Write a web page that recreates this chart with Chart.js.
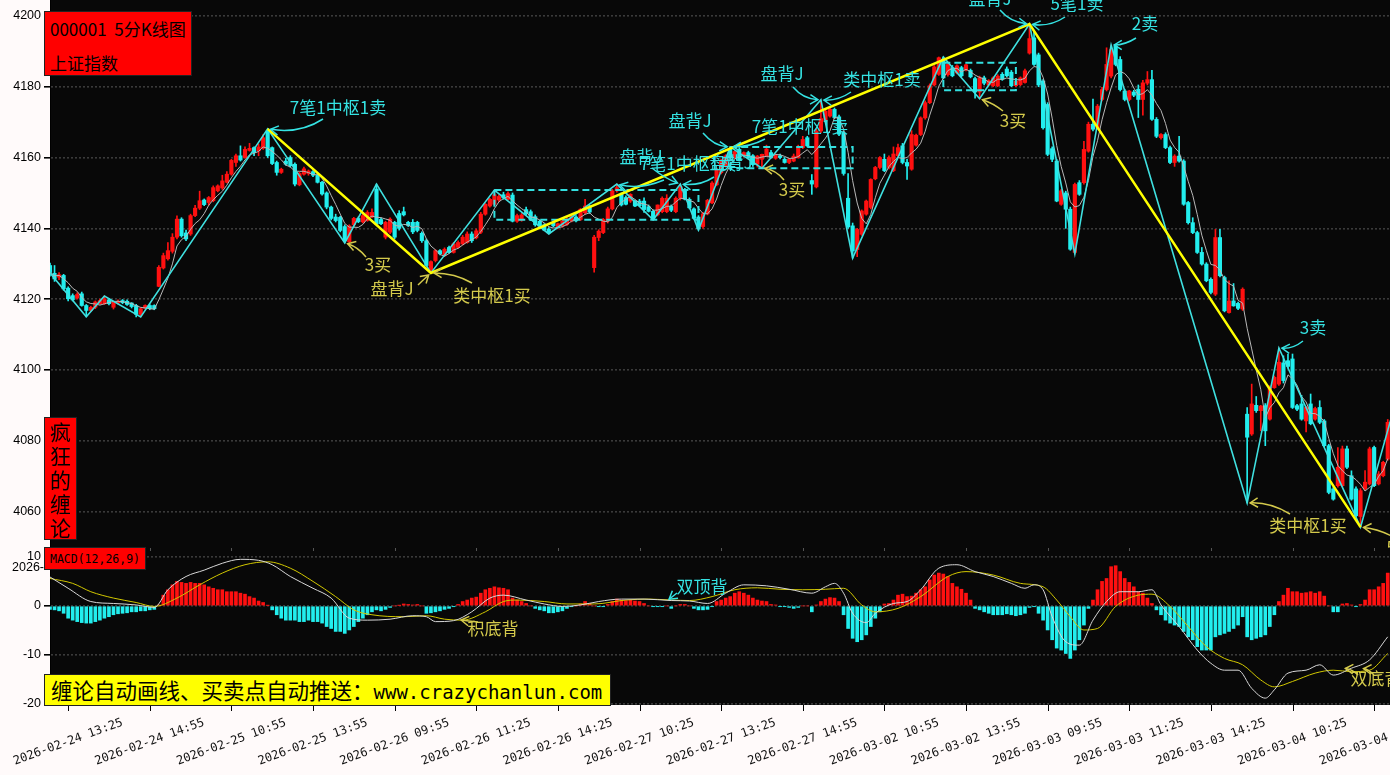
<!DOCTYPE html>
<html>
<head>
<meta charset="utf-8">
<script src="https://cdn.jsdelivr.net/npm/chart.js@4.4.1/dist/chart.umd.min.js"></script>
<style>
  html, body { margin: 0; padding: 0; }
  body { width: 1390px; height: 775px; overflow: hidden; position: relative; background: #fffafa; }
  #bg { position: absolute; left: 50px; top: 0; width: 1340px; height: 705px; background: #080808; }
  canvas { position: absolute; left: 0; }
  #main { top: 0; }
  #macd { top: 551px; }
  .tag { position: absolute; background: #ff0000; border: 1px solid #222; color: #000; font-family: "Noto Sans CJK SC", sans-serif; }
  #title { left: 44px; top: 11px; width: 146px; height: 63px; font-size: 17px; }
  #title div { position: absolute; left: 5px; white-space: pre; }
  #vert { left: 44px; top: 417px; width: 33px; height: 123px; font-size: 21px; line-height: 24px; text-align: center; padding-top: 1px; box-sizing: border-box; }
  #macdTag { left: 44px; top: 547px; width: 102px; height: 23px; font-family: "DejaVu Sans Mono", monospace; font-size: 11.5px; line-height: 23px; padding-left: 5px; box-sizing: border-box; }
  #ad { position: absolute; left: 44px; top: 674px; width: 567px; height: 32px; background: #ffff00; border: 1px solid #222; box-sizing: border-box; color: #000; line-height: 30px; padding-left: 6px; white-space: nowrap; }
  #ad .cn { font-family: "Noto Sans CJK SC", sans-serif; font-size: 21.5px; }
  #ad .en { font-family: "DejaVu Sans Mono", monospace; font-size: 19px; }
</style>
</head>
<body>
<div id="bg"></div>
<canvas id="main" width="1390" height="551"></canvas>
<canvas id="macd" width="1390" height="224"></canvas>
<div class="tag" id="title"><div style="top:4px">000001  5分K线图</div><div style="top:38px">上证指数</div></div>
<div class="tag" id="vert">疯<br>狂<br>的<br>缠<br>论</div>
<div class="tag" id="macdTag">MACD(12,26,9)</div>
<div id="ad"><span class="cn">缠论自动画线、买卖点自动推送：</span><span class="en">www.crazychanlun.com</span></div>
<script>
'use strict';

// 5分钟K线, 第0根 = 2026-02-24 13:05
const opens = [
  4129.5,4127.3,4126.2,4126.7,4123.1,4121,4120.3,4121.5,4118.2,4116.8,
  4117.7,4118.7,4118.7,4119.8,4117.7,4118.9,4119.6,4119.4,4118.9,4118.2,
  4115.7,4117.4,4118.2,4118.2,4123.6,4128.8,4131.4,4133.5,4137.5,4142.6,
  4138.7,4138.4,4143.6,4145.7,4148,4147.3,4147.8,4150.6,4151.4,4153,
  4155.3,4158.6,4160.5,4160,4162,4162.8,4161.9,4162.6,4167.5,4162.8,
  4158.6,4155.8,4159,4160,4158.1,4152.3,4155.3,4155.5,4156,4155,
  4153,4150,4146,4143.2,4143.1,4140.5,4136.2,4141,4142.8,4141.8,
  4142.2,4143.2,4151.1,4142.5,4137.5,4138.9,4141.7,4144.2,4144.7,4141.7,
  4141.7,4141.7,4138.6,4136.5,4127.9,4130.9,4133.7,4132.3,4134.6,4133.2,
  4134.6,4135.6,4136,4138.4,4137.3,4138.9,4144,4146.3,4146.8,4148,
  4149.5,4148.2,4149.4,4142,4142.3,4145.3,4144.7,4143.3,4142,4141,
  4139.8,4141.6,4140.2,4140.7,4141.1,4142.1,4143.2,4142.5,4144.4,4146,
  4128.9,4137.4,4138.8,4142,4145.5,4150.6,4149.6,4148.7,4147.7,4147.7,
  4147.7,4147.7,4146.1,4144.8,4143.8,4144.7,4144.7,4146.2,4144.7,4148.5,
  4150.8,4148.2,4145.5,4143.2,4140.5,4144.1,4147.2,4152.3,4155.7,4157.6,
  4162.6,4160,4162.3,4160.5,4161.4,4160.5,4158.1,4159.5,4160.5,4161.4,
  4159.8,4160.5,4159.5,4158.6,4159,4160,4162.8,4165.6,4153.5,4151.7,
  4167.5,4170.3,4171.7,4173.6,4171.5,4167,4148.5,4140.7,4134,4138.3,
  4144,4145.9,4154,4157.2,4159.5,4157.2,4156.3,4160.5,4163.3,4158.6,
  4156.7,4163.5,4166.5,4171.2,4175.5,4180.5,4183.5,4187.7,4183.4,4185.4,
  4183.9,4185.4,4184.8,4184.6,4182.3,4178.5,4182.5,4180.5,4180.3,4180.3,
  4183.5,4185,4184.1,4180.3,4180.6,4181.2,4189.5,4193.8,4189,4181.6,
  4175,4162.5,4159,4146.8,4150,4145.4,4133.2,4152.9,4152.9,4161.8,
  4169.4,4168.4,4176.4,4179.2,4183,4191.5,4187.7,4178.8,4176.4,4178.5,
  4179.3,4176.4,4181,4182,4170.8,4165.6,4166.5,4162.8,4158.6,4160.4,
  4159,4147.3,4141.6,4138.8,4133.2,4129.9,4125.6,4121.4,4137.4,4126.1,
  4116.2,4119.5,4118.8,4117.2,4087.5,4081.9,4090,4088.5,4089.9,4086.1,
  4095,4096,4102,4102.6,4103.1,4089.9,4090.4,4085.6,4090.4,4086.1,
  4089.4,4085.6,4078.6,4066.4,4067.3,4067.3,4077.7,4070.1,4066.4,4058.6,
  4066.4,4067.8,4078.1,4067.8,4070.1,4074.8
];
const highs = [
  4130.2,4129.5,4127.5,4127,4123.5,4121.5,4121.8,4122,4118.5,4118,
  4119.5,4120,4120.9,4120.2,4119.4,4119.8,4119.9,4119.8,4119,4118.5,
  4117.6,4118.4,4118.5,4118.4,4129.5,4133,4136,4138.5,4143.5,4143,
  4139.5,4144,4146.5,4150.5,4148.3,4149,4152,4152.3,4155,4156,
  4159.5,4161,4163.3,4163,4164,4163,4163.8,4166.5,4168.1,4163,
  4159,4157,4159.8,4160.5,4158.5,4155.8,4157.3,4156.5,4156.3,4155.3,
  4153.3,4150.3,4146.3,4144,4143.4,4141,4141,4143.1,4143.2,4144,
  4145,4145.5,4152.5,4143,4142,4143,4142,4145,4146,4142,
  4142.5,4142,4139,4137,4130.8,4134,4134,4134.5,4135,4136,
  4136.5,4138,4139,4139,4139.8,4144.5,4147,4148.5,4150.8,4149.5,
  4150.2,4150.3,4150,4144,4144.2,4146,4145.2,4143.8,4142.3,4141.3,
  4140.2,4142,4141.5,4142.3,4143,4143.8,4143.6,4145.6,4148.2,4146.5,
  4138,4139.6,4142.8,4146,4151,4152.5,4150,4149.2,4149.8,4148,
  4148.2,4148.6,4146.6,4145.2,4146.6,4148.9,4149.5,4146.6,4148.9,4152.5,
  4151.3,4148.6,4145.8,4143.6,4144.5,4148.2,4153.2,4157,4159.5,4160.8,
  4163,4161.9,4162.8,4161.6,4161.8,4160.8,4160.6,4161,4163.5,4162,
  4161,4161,4160,4159.8,4161,4163.5,4166,4166,4155.2,4168,
  4176.3,4173.5,4174.5,4174,4172,4167.5,4155.5,4141.5,4140,4145.2,
  4148,4154,4157.5,4160.3,4161,4160.5,4163,4163.8,4164,4159.5,
  4167.6,4166.6,4171.5,4176,4180.8,4186,4188.4,4188.4,4186.5,4186,
  4186.2,4185.8,4186.4,4185,4182.7,4183,4183,4182,4182.8,4183.4,
  4184,4185.6,4184.6,4181.8,4182.8,4185,4197.7,4195.5,4189.5,4182,
  4175.5,4163,4159.5,4151,4150.5,4146,4152.8,4153.5,4164.6,4170,
  4176.5,4175,4179.8,4191,4191.8,4191.8,4188.5,4179.3,4179,4179,
  4180.5,4181.8,4184.3,4184.6,4171.3,4166.8,4167,4163.2,4160.8,4166,
  4159.4,4147.6,4143,4139.2,4134.6,4130.3,4126,4139.7,4139.7,4126.5,
  4125.2,4124.4,4119.2,4123.2,4089.4,4096,4092.5,4090,4090.5,4095.5,
  4098.3,4106.2,4104,4104.5,4104.5,4090.3,4092.8,4089.7,4093.2,4089.5,
  4091.3,4086,4079,4067,4078.1,4078.5,4078.5,4071.5,4067,4066.5,
  4071.6,4078.2,4078.5,4071.3,4074.2,4086
];
const lows = [
  4126.5,4125,4125.5,4122.5,4119.5,4119.5,4120,4118,4115,4116.5,
  4117.3,4118.5,4118.5,4118.4,4117.2,4118.6,4118.7,4118.2,4117.5,4115,
  4115,4117.2,4117,4117,4123.5,4128.5,4131,4133,4137,4137.5,
  4136.5,4138,4143.3,4145.3,4146.4,4146.5,4147.5,4150.3,4151,4152.8,
  4155,4157.5,4159,4159.8,4161.8,4160.5,4160.5,4162.3,4160,4158,
  4155,4155.5,4157.8,4157.3,4152,4152,4155,4155,4154.6,4152.8,
  4149.4,4145.5,4142.4,4141.8,4139,4135.9,4135.9,4140.5,4141.6,4141.5,
  4142,4143,4141,4141,4137,4138.5,4137,4139.5,4143.5,4140.5,
  4138.5,4139,4136,4129.3,4127.4,4130.5,4132.5,4132,4133,4133,
  4134.4,4135.3,4135.8,4136,4137,4138.5,4143.7,4146,4146.5,4147.5,
  4148.2,4148,4141.8,4141.7,4142,4143.8,4142.2,4140.6,4140.3,4139.3,
  4138.4,4140.4,4139.8,4140.3,4140.8,4141.8,4141.8,4142.2,4144,4144.2,
  4127.6,4136.5,4138.5,4141.5,4145.2,4150.2,4146.3,4146.6,4147.3,4146.1,
  4146.3,4144.5,4144.6,4142.4,4143.5,4144.4,4144.4,4144.7,4144.4,4148,
  4148,4145.5,4142.6,4139.5,4140,4143.8,4147,4152,4155.4,4157.3,
  4160.3,4159.8,4159,4160.2,4159.8,4157.5,4157.3,4157,4160.2,4159.8,
  4159.5,4159.6,4158.4,4158.3,4158.8,4159.8,4162.5,4163,4149.6,4151.4,
  4167,4170,4171.4,4171,4166.2,4155,4140,4131.6,4132,4138,
  4143.7,4145.5,4153.7,4156.8,4156,4156.8,4156,4160,4158.2,4153.8,
  4156.4,4163.2,4166.2,4170.8,4175.2,4180.2,4183.2,4182.2,4183,4182.8,
  4183.6,4182.8,4184.5,4182.5,4176.8,4176.6,4180.5,4180.2,4180,4180,
  4181.8,4182.8,4180,4180,4180.3,4181,4189.2,4186,4180,4168,
  4160.5,4158.8,4147.5,4146.5,4140,4133.8,4132.8,4149.3,4152.5,4161.5,
  4167.5,4168,4176,4178.8,4182.5,4185.9,4178.8,4176,4176,4177.2,
  4171.3,4172,4180.5,4170.5,4165.6,4165.2,4162.5,4158.3,4157.5,4158.7,
  4146.5,4141.2,4138.5,4132.9,4129.6,4124.9,4121.5,4121,4126.3,4116.4,
  4116,4118,4117,4116.8,4062.4,4081.5,4088,4082.8,4078.6,4085.8,
  4094.8,4095.6,4096.3,4100.5,4089.1,4088.5,4085.8,4082.5,4084.5,4085.8,
  4084.8,4078.3,4065,4063.2,4066.9,4067,4072.1,4063.2,4058.5,4055.6,
  4066,4067.5,4067,4067.5,4069.8,4074.5
];
const closes = [
  4127.5,4125.7,4126.9,4122.9,4120.1,4119.8,4121.3,4118.2,4116.8,4117.7,
  4119.2,4119.6,4120.1,4118.7,4119.2,4119.4,4119,4118.5,4117.9,4115.7,
  4117.3,4118.2,4117.3,4117.3,4129,4132.3,4133.7,4137.5,4142.6,4137.9,
  4137,4143.6,4145.7,4147.8,4146.7,4148.7,4151.5,4152,4153.4,4155.3,
  4159.2,4160.5,4159.3,4162.3,4162.6,4161.4,4163,4165.6,4160.5,4158.3,
  4155.8,4156.7,4158.1,4157.7,4152.5,4155.5,4156.8,4156.2,4155,4153,
  4149.7,4146,4142.8,4142.2,4139.4,4136.5,4140.7,4142.8,4141.9,4143.6,
  4144.5,4144.5,4141.2,4141.3,4141.7,4142.6,4137.5,4140,4143.8,4140.8,
  4139,4139.4,4136.5,4129.5,4130.6,4133.7,4132.8,4134.1,4133.2,4135.6,
  4136,4137.5,4138.4,4136.5,4139.3,4144,4146.8,4148.2,4149.5,4149,
  4148.6,4149.8,4142,4143.6,4143.8,4144.1,4142.4,4141,4140.6,4139.5,
  4138.7,4140.7,4141.3,4142.1,4142.5,4143.5,4142.1,4145.4,4146.3,4144.6,
  4137.5,4139.2,4142.5,4145.5,4150.6,4151.5,4146.6,4146.8,4149.6,4146.3,
  4146.4,4145.3,4144.8,4142.7,4146.6,4148.5,4148.5,4145.1,4148.5,4151.8,
  4148.2,4145.8,4142.8,4139.9,4144.1,4147.9,4152.8,4156.7,4159,4160.5,
  4160.5,4161.7,4159.2,4161.4,4160,4158,4160.4,4160.9,4162.4,4160,
  4160.6,4160,4158.6,4159.5,4160.4,4162.8,4165.1,4163.3,4152.5,4167.5,
  4171,4173.1,4173.6,4171.3,4166.6,4155.5,4140.4,4133.6,4139.7,4144.9,
  4147.7,4153.8,4157.2,4160,4156.3,4160,4161,4162.8,4158.6,4157.6,
  4166.5,4166.3,4171.2,4175.5,4180.3,4185.6,4188.2,4182.5,4186.3,4183.1,
  4185.9,4183.1,4186.2,4182.8,4178.5,4182.5,4181,4181.7,4182.5,4183,
  4182.1,4183.1,4180.3,4181.6,4182.5,4184.5,4193.6,4186.3,4180.5,4168.4,
  4160.9,4159.5,4147.7,4150.6,4145.4,4134.1,4152.4,4149.6,4162.3,4169.4,
  4168,4174.5,4179.2,4186.3,4190.5,4186.3,4179.2,4176.4,4178.8,4177.6,
  4176.4,4181.1,4182,4170.8,4166,4166.5,4162.8,4158.6,4160.4,4159,
  4146.8,4141.6,4138.8,4133.2,4129.9,4125.2,4121.9,4137.4,4126.6,4116.7,
  4119.5,4118.1,4117.4,4122.8,4081,4090.4,4088.5,4089.8,4082.8,4095,
  4097.9,4102.2,4097,4101,4089.4,4088.9,4086.1,4089.4,4084.8,4089.1,
  4085.2,4078.6,4065.4,4063.5,4072.5,4077.7,4072.5,4063.5,4058.8,4065.9,
  4068.3,4077.7,4067.3,4070.6,4073.9,4085.2
];

// MACD 柱
const macdHist = [
  -0.7,-0.8,-1.0,-1.5,-2.5,-2.9,-3.2,-3.4,-3.5,-3.5,
  -3.2,-2.9,-2.5,-2.2,-1.8,-1.6,-1.5,-1.4,-1.2,-1.2,
  -1.0,-1.0,-0.8,-0.7,0.2,2.2,3.3,4.3,5.0,4.8,
  4.6,4.8,4.6,4.6,4.3,3.9,3.6,3.3,3.3,2.9,
  2.9,2.9,2.6,2.4,1.9,1.6,1.0,0.7,0.1,-0.8,
  -1.8,-2.5,-2.9,-2.9,-2.9,-3.2,-3.2,-2.9,-3.2,-3.2,
  -3.5,-4.2,-4.6,-5.2,-5.2,-5.6,-4.9,-4.2,-3.2,-2.5,
  -1.8,-1.2,-0.8,-1.0,-0.7,-0.3,0,0.1,0.4,0.3,
  0.2,0.3,0,-1.5,-1.4,-1.2,-1.0,-0.7,-0.5,-0.1,
  0.3,0.9,1.2,1.6,1.8,2.6,3.3,3.6,3.9,3.7,
  3.6,3.3,1.6,1.2,0.9,0.5,0,-0.5,-0.8,-1.0,
  -1.4,-1.4,-1.2,-1.0,-0.5,-0.1,0,0.4,0.9,0.5,
  0,-0.1,-0.1,0.3,0.9,1.4,1.2,1.1,1.2,1.0,
  0.9,0.5,0,-0.1,-0.1,-0.1,0,-0.5,0,0.3,
  0.3,0,-0.5,-0.8,-0.8,-0.7,-0.1,0.9,1.2,1.6,
  1.9,2.6,2.9,2.6,2.2,1.6,1.2,1.0,0.9,0.3,
  0.2,-0.1,-0.1,-0.3,-0.5,-0.3,0,0,-1.2,0.2,
  0.9,1.4,1.7,1.6,0.9,-1.8,-4.6,-6.6,-7.3,-6.9,
  -5.9,-4.2,-2.5,-1.2,0.4,0.5,1.2,2.2,2.4,1.9,
  2.0,2.6,3.3,3.9,5.3,6.3,6.7,6.5,6.0,4.6,
  3.9,3.4,2.6,1.2,-0.5,-0.8,-1.2,-1.5,-1.8,-1.8,
  -1.8,-1.6,-1.8,-2.0,-1.8,-1.5,-0.3,-0.1,-1.5,-2.9,
  -4.9,-6.9,-8.6,-9.0,-9.7,-10.7,-9.0,-6.9,-3.9,-0.5,
  1.2,3.3,5.0,5.6,8.0,8.2,7.0,5.6,4.8,3.9,
  2.9,2.6,1.6,0.5,-0.8,-1.8,-2.9,-3.5,-3.9,-4.2,
  -5.2,-6.3,-6.9,-8.3,-9.0,-9.0,-9.0,-6.3,-5.9,-5.6,
  -5.2,-4.6,-3.9,-2.2,-6.3,-6.9,-6.6,-6.3,-5.9,-4.2,
  -1.8,0.9,2.2,3.6,2.9,2.9,2.6,2.7,2.9,2.6,
  2.9,2.0,0,-1.2,-1.2,0.4,0.5,0.2,-0.1,0.3,
  1.2,3.3,3.3,3.9,4.6,6.7
];
// DIF / DEA 读点 [K线序号, 值]
const difPoints = [
  [0,5.9],[4,3.6],[9,0.9],[14,0.5],[19,0.2],[23,-0.3],[26,3.3],[30,6.0],[34,7.3],[38,8.7],
  [42,9.5],[46,9.3],[49,8.4],[53,6.0],[58,3.6],[62,1.6],[66,-2.5],[70,-2.9],[75,-2.7],[80,-2.0],
  [83,-2.2],[85,-3.2],[89,-3.0],[93,-1.2],[97,1.6],[100,2.2],[105,1.2],[109,0.4],[113,-0.1],[117,0.2],
  [121,0.9],[126,1.4],[131,1.4],[137,1.1],[141,1.0],[145,0.5],[149,2.6],[153,4.3],[158,4.1],[163,3.4],
  [168,2.6],[171,3.9],[173,4.6],[175,2.6],[177,-1.5],[180,-3.4],[182,-1.5],[186,0.5],[189,0.9],[192,3.3],
  [196,7.7],[200,8.4],[204,7.0],[208,6.0],[212,4.6],[215,3.6],[217,4.3],[219,3.3],[221,-2.2],[224,-7.3],
  [227,-8.0],[230,-2.9],[233,0.9],[236,2.9],[240,2.9],[243,3.3],[245,0.2],[249,-4.2],[253,-9.0],[256,-11.7],
  [259,-13.1],[262,-13.1],[265,-16.8],[268,-18.8],[270,-17.1],[273,-13.7],[277,-13.1],[280,-12.0],[283,-14.1],[287,-12.7],
  [291,-11.0],[295,-6.3]
];
const deaPoints = [
  [0,5.6],[5,4.6],[9,2.9],[14,1.6],[19,0.7],[23,-0.1],[28,1.6],[33,4.3],[38,6.7],[43,8.4],
  [48,9.0],[53,7.7],[58,5.0],[63,1.9],[67,-0.8],[71,-1.8],[78,-2.2],[83,-2.0],[87,-2.7],[91,-2.9],
  [96,-1.2],[100,0.9],[103,1.2],[109,0.9],[114,0.4],[120,0.4],[127,1.2],[132,1.4],[137,1.2],[141,1.1],
  [146,1.9],[151,3.3],[156,3.7],[161,3.4],[166,3.3],[171,3.4],[175,3.6],[179,0.2],[182,-1.2],[187,-0.5],
  [192,1.9],[198,6.0],[202,7.0],[208,6.3],[214,4.6],[219,3.9],[222,1.2],[225,-2.2],[228,-4.9],[231,-4.6],
  [235,-0.1],[240,2.2],[243,2.4],[247,-0.1],[251,-4.2],[255,-8.3],[259,-10.7],[263,-12.0],[267,-15.1],[270,-16.5],
  [274,-15.4],[279,-13.7],[283,-13.1],[287,-13.4],[291,-13.1],[295,-9.7]
];

// 笔 / 线段 端点 [K线序号, 价格]
const biPoints = [
  [0,4127.4],[8,4115],[12,4120.9],[20,4115],[48,4168.1],[65,4135.9],[72,4152.5],[84,4127.4],
  [98,4150.8],[110,4138.4],[125,4152.5],[133,4142.4],[139,4152.5],[143,4139.5],[150,4163],[157,4157],
  [170,4176.3],[177,4131.6],[197,4188.4],[205,4176.6],[216,4197.7],[226,4132.8],[234,4191.8],
  [264,4062.4],[271,4106.2],[289,4055.6],[297,4092]
];
const segPoints = [[48,4168.1],[84,4127.4],[216,4197.7],[289,4055.6]];
// 中枢 [起, 止, 低, 高]
const zhongshu = [[98,143,4142.4,4150.8],[150,177,4157,4163],[197,213,4179,4186.8]];

const priceTicks = [4200,4180,4160,4140,4120,4100,4080,4060];
const macdTicks = [10,0,-10,-20];
const tickLabels = [
  '2026-02-24 13:25','2026-02-24 14:55','2026-02-25 10:55','2026-02-25 13:55','2026-02-26 09:55',
  '2026-02-26 11:25','2026-02-26 14:25','2026-02-27 10:25','2026-02-27 13:25','2026-02-27 14:55',
  '2026-03-02 10:55','2026-03-02 13:55','2026-03-03 09:55','2026-03-03 11:25','2026-03-03 14:25',
  '2026-03-04 10:25','2026-03-04 13:25'
];
const firstTickBar = 4, tickEvery = 18;

const RED = '#ff1010', CYAN = '#22eeee', TXT_CY = '#35e3e3', TXT_KH = '#d4ca4c';

// 标注: 文字像素位置, 箭头起点/控制点(像素), 箭头指向(数据坐标)
const mainNotes = [
  {t:'7笔1中枢1卖', c:TXT_CY, tx:338, ty:108, from:[323,119], ctrl:[300,134], tip:[48,4168.1]},
  {t:'3买', c:TXT_KH, tx:378, ty:265, from:[366,257], ctrl:[358,247], tip:[65,4135.9]},
  {t:'盘背J', c:TXT_KH, tx:392, ty:289, from:[418,285], ctrl:[423,280], tip:[84,4127.4]},
  {t:'类中枢1买', c:TXT_KH, tx:492, ty:296, from:[472,283], ctrl:[455,273], tip:[84,4127.4]},
  {t:'盘背J', c:TXT_CY, tx:641, ty:157, from:[652,168], ctrl:[664,178], tip:[139,4152.5]},
  {t:'7笔1中枢1卖', c:TXT_CY, tx:688, ty:164, from:[664,180], ctrl:[640,190], tip:[125,4152.5]},
  {t:'盘背J', c:TXT_CY, tx:731, ty:163, from:[714,177], ctrl:[700,186], tip:[139,4152.5]},
  {t:'盘背J', c:TXT_CY, tx:690, ty:121, from:[703,133], ctrl:[714,146], tip:[150,4163]},
  {t:'3买', c:TXT_KH, tx:792, ty:190, from:[784,180], ctrl:[776,170], tip:[157,4157]},
  {t:'7笔1中枢1卖', c:TXT_CY, tx:800, ty:127, from:[765,139], ctrl:[750,147], tip:[150,4163]},
  {t:'盘背J', c:TXT_CY, tx:782, ty:74, from:[793,87], ctrl:[803,99], tip:[170,4176.3]},
  {t:'类中枢1卖', c:TXT_CY, tx:882, ty:80, from:[851,92], ctrl:[838,101], tip:[170,4176.3]},
  {t:'3买', c:TXT_KH, tx:1013, ty:121, from:[1003,111], ctrl:[993,103], tip:[205,4176.6]},
  {t:'盘背J', c:TXT_CY, tx:990, ty:-1, from:[1000,10], ctrl:[1010,22], tip:[216,4197.7]},
  {t:'5笔1卖', c:TXT_CY, tx:1077, ty:4, from:[1065,17], ctrl:[1050,27], tip:[216,4197.7]},
  {t:'2卖', c:TXT_CY, tx:1145, ty:24, from:[1136,38], ctrl:[1125,45], tip:[234,4191.8]},
  {t:'3卖', c:TXT_CY, tx:1313, ty:328, from:[1303,341], ctrl:[1293,349], tip:[271,4106.2]},
  {t:'类中枢1买', c:TXT_KH, tx:1308, ty:526, from:[1290,514], ctrl:[1270,502], tip:[264,4062.4]},
  {t:'5笔1买', c:TXT_KH, tx:1413, ty:548, from:[1395,538], ctrl:[1380,529], tip:[289,4055.6]}
];
const macdNotes = [
  {t:'积底背', c:TXT_KH, tx:493, ty:78, from:[478,71], ctrl:[468,70], tip:[90,-2.8]},
  {t:'双顶背', c:TXT_CY, tx:702, ty:36, from:[677,42], ctrl:[672,46], tip:[136,1.0]},
  {t:'双底背', c:TXT_KH, tx:1376, ty:128, from:[1358,124], ctrl:[1352,118], tip:[285,-12.7]},
  {t:'', c:TXT_KH, from:[1374,124], ctrl:[1368,118], tip:[289,-12.7]}
];

const ma5 = closes.map((c, i) => {
  const w = closes.slice(Math.max(0, i - 4), i + 1);
  return w.reduce((a, b) => a + b, 0) / w.length;
});
const candleColor = closes.map((c, i) => c >= opens[i] ? RED : CYAN);

function drawNotes(chart, notes) {
  const ctx = chart.ctx, xs = chart.scales.x, ys = chart.scales.y;
  ctx.save();
  ctx.font = '17px "Noto Sans CJK SC"';
  ctx.textAlign = 'center';
  ctx.textBaseline = 'middle';
  ctx.lineWidth = 1.5;
  notes.forEach(n => {
    if (n.t) { ctx.fillStyle = n.c; ctx.fillText(n.t, n.tx, n.ty); }
    const px = xs.getPixelForValue(n.tip[0]), py = ys.getPixelForValue(n.tip[1]);
    const a = Math.atan2(py - n.ctrl[1], px - n.ctrl[0]);
    const ex = px - 3 * Math.cos(a), ey = py - 3 * Math.sin(a);
    ctx.strokeStyle = n.c;
    ctx.beginPath();
    ctx.moveTo(n.from[0], n.from[1]);
    ctx.quadraticCurveTo(n.ctrl[0], n.ctrl[1], ex, ey);
    ctx.stroke();
    ctx.beginPath();
    ctx.moveTo(ex - 9 * Math.cos(a - 0.55), ey - 9 * Math.sin(a - 0.55));
    ctx.lineTo(ex, ey);
    ctx.lineTo(ex - 9 * Math.cos(a + 0.55), ey - 9 * Math.sin(a + 0.55));
    ctx.stroke();
  });
  ctx.restore();
}

const xAxis = {type: 'linear', min: 0, max: 295.5, offset: false, bounds: 'ticks', display: false};
const yAxisBase = (min, max, ticks) => ({
  min: min, max: max, position: 'left',
  afterBuildTicks: s => { s.ticks = ticks.map(v => ({value: v})); },
  afterFit: s => { s.width = 50; s.paddingTop = 0; s.paddingBottom = 0; },
  ticks: {color: '#000', font: {family: 'Liberation Sans', size: 12.5}, padding: 3, callback: v => String(v)},
  grid: {color: '#3a3a3a', lineWidth: 1.6, tickColor: '#000', tickLength: 6},
  border: {display: true, color: '#000', dash: [2, 2]}
});

new Chart(document.getElementById('main'), {
  data: {
    datasets: [
      {type: 'line', data: segPoints.map(p => ({x: p[0], y: p[1]})), borderColor: '#ffff00', borderWidth: 2.5, pointRadius: 0, order: 1},
      {type: 'line', data: biPoints.map(p => ({x: p[0], y: p[1]})), borderColor: '#3fe0e0', borderWidth: 1.6, pointRadius: 0, order: 2},
      ...zhongshu.map(z => ({
        type: 'line',
        data: [{x: z[0], y: z[3]}, {x: z[1], y: z[3]}, {x: z[1], y: z[2]}, {x: z[0], y: z[2]}, {x: z[0], y: z[3]}],
        borderColor: '#33e0e0', borderWidth: 2, borderDash: [7, 4], pointRadius: 0, order: 3
      })),
      {type: 'line', data: ma5.map((v, i) => ({x: i, y: v})), borderColor: '#b8b8b8', borderWidth: 1, pointRadius: 0, order: 4},
      {type: 'bar', data: opens.map((o, i) => ({x: i, y: [o, closes[i]]})), backgroundColor: candleColor, barThickness: 3.5, minBarLength: 1, grouped: false, order: 5},
      {type: 'bar', data: opens.map((o, i) => ({x: i, y: [lows[i], highs[i]]})), backgroundColor: candleColor, barThickness: 1, grouped: false, order: 6}
    ]
  },
  options: {
    responsive: false, animation: false, devicePixelRatio: 1, events: [],
    layout: {padding: {top: 0, right: 0, bottom: 3, left: 0}},
    plugins: {legend: {display: false}, tooltip: {enabled: false}},
    scales: {
      x: xAxis,
      y: yAxisBase(4049.7, 4204.5, priceTicks)
    }
  },
  plugins: [{
    id: 'mainNotes',
    afterDraw(chart) {
      const ctx = chart.ctx, xs = chart.scales.x, b = chart.chartArea.bottom;
      ctx.save();
      ctx.strokeStyle = '#555';
      ctx.lineWidth = 1;
      tickLabels.forEach((l, k) => {
        const x = Math.round(xs.getPixelForValue(firstTickBar + k * tickEvery)) + 0.5;
        ctx.beginPath(); ctx.moveTo(x, b); ctx.lineTo(x, b + 3); ctx.stroke();
      });
      ctx.restore();
      drawNotes(chart, mainNotes);
    }
  }]
});

new Chart(document.getElementById('macd'), {
  data: {
    datasets: [
      {type: 'line', data: difPoints.map(p => ({x: p[0], y: p[1]})), borderColor: '#d8d8d8', borderWidth: 1, pointRadius: 0, cubicInterpolationMode: 'monotone', order: 1},
      {type: 'line', data: deaPoints.map(p => ({x: p[0], y: p[1]})), borderColor: '#d2c800', borderWidth: 1, pointRadius: 0, cubicInterpolationMode: 'monotone', order: 2},
      {type: 'bar', data: macdHist.map((v, i) => ({x: i, y: v})), backgroundColor: macdHist.map(v => v >= 0 ? RED : CYAN), barThickness: 3, grouped: false, order: 3}
    ]
  },
  options: {
    responsive: false, animation: false, devicePixelRatio: 1, events: [],
    layout: {padding: {top: 0, right: 0, bottom: 70, left: 0}},
    plugins: {legend: {display: false}, tooltip: {enabled: false}},
    scales: {
      x: xAxis,
      y: yAxisBase(-20.2, 11.2, macdTicks)
    }
  },
  plugins: [{
    id: 'macdAxis',
    afterDraw(chart) {
      const ctx = chart.ctx, xs = chart.scales.x, b = chart.chartArea.bottom;
      ctx.save();
      ctx.strokeStyle = '#000';
      ctx.fillStyle = '#111';
      ctx.lineWidth = 1;
      ctx.font = '12px "DejaVu Sans Mono"';
      ctx.textAlign = 'center';
      ctx.textBaseline = 'middle';
      tickLabels.forEach((l, k) => {
        const x = xs.getPixelForValue(firstTickBar + k * tickEvery);
        ctx.beginPath(); ctx.moveTo(Math.round(x) + 0.5, b); ctx.lineTo(Math.round(x) + 0.5, b + 6); ctx.stroke();
        ctx.save();
        ctx.translate(x, b + 37);
        ctx.rotate(-20 * Math.PI / 180);
        ctx.fillText(l, 0, 0);
        ctx.restore();
      });
      ctx.font = '12.5px "Liberation Sans"';
      ctx.textAlign = 'right';
      ctx.fillStyle = '#000';
      ctx.fillText('2026-', 44, 17);
      ctx.restore();
      drawNotes(chart, macdNotes);
    }
  }]
});
</script>
</body>
</html>
